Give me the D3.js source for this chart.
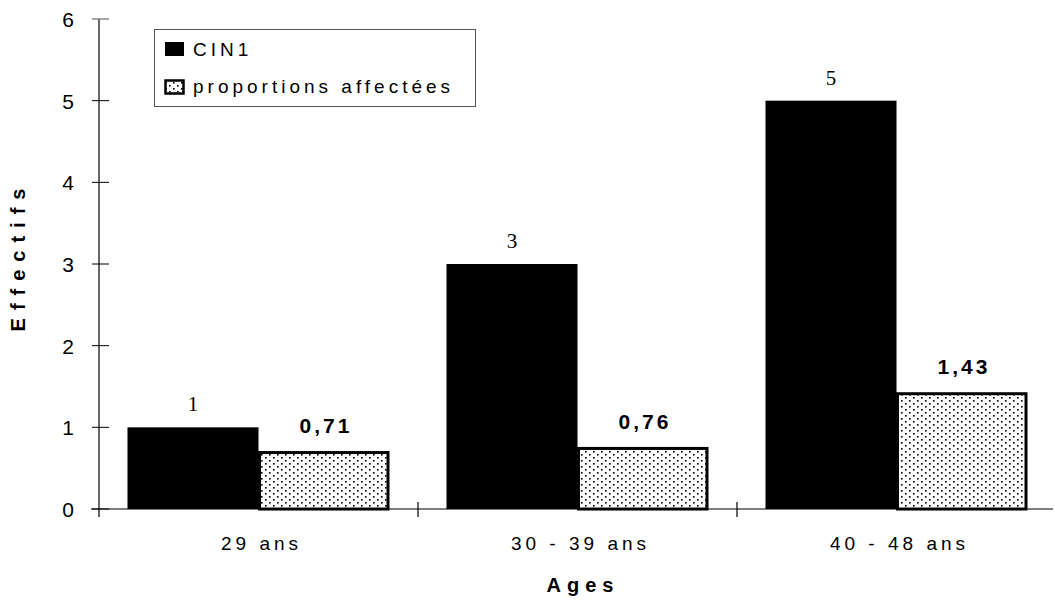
<!DOCTYPE html>
<html>
<head>
<meta charset="utf-8">
<script src="https://cdn.jsdelivr.net/npm/d3@7"></script>
<style>
body{margin:0;background:#fff;}
svg{display:block;font-family:Arial, "Liberation Sans", sans-serif;}
</style>
</head>
<body>
<svg id="chart" width="1055" height="601"></svg>
<script>
const categories = ["29 ans", "30 - 39 ans", "40 - 48 ans"];
const cin1 = [1, 3, 5];
const proportions = [0.71, 0.76, 1.43];
const proportionLabels = ["0,71", "0,76", "1,43"];
const yTicks = [0, 1, 2, 3, 4, 5, 6];
const seriesNames = ["CIN1", "proportions affectées"];

const svg = d3.select("#chart");
const defs = svg.append("defs");
const pat = defs.append("pattern").attr("id","dots").attr("patternUnits","userSpaceOnUse")
  .attr("width",8).attr("height",6);
pat.append("rect").attr("width",8).attr("height",6).attr("fill","#fff");
pat.append("rect").attr("x",1).attr("y",1).attr("width",1.6).attr("height",1.6).attr("fill","#000");
pat.append("rect").attr("x",5).attr("y",4).attr("width",1.6).attr("height",1.6).attr("fill","#000");

const x0 = 99, x1 = 1056, yTop = 19, yBot = 509;
const x = d3.scaleBand().domain(categories).range([x0, x1]).paddingInner(0).paddingOuter(0);
const inner = d3.scaleBand().domain([0,1]).range([0, 262]);
const y = d3.scaleLinear().domain([0, 6]).range([yBot, yTop]);
const groupOff = (x.bandwidth() - 262) / 2;

// y axis
svg.append("line").attr("x1",x0).attr("x2",x0).attr("y1",yTop).attr("y2",yBot+8)
  .attr("stroke","#000").attr("stroke-width",1.2);
const yAxis = svg.append("g");
yTicks.forEach(t => {
  const yy = y(t);
  yAxis.append("line").attr("x1", x0 - 7).attr("x2", x0 + 10).attr("y1", yy).attr("y2", yy)
    .attr("stroke", t===6 ? "#888" : "#000").attr("stroke-width", t===6 ? 1.5 : 1);
  yAxis.append("text").attr("x", 74).attr("y", yy + 8).attr("text-anchor","end")
    .attr("font-size", 21).attr("fill","#000").text(t);
});

// x axis
svg.append("line").attr("x1",x0-8).attr("x2",1053).attr("y1",yBot).attr("y2",yBot)
  .attr("stroke","#000").attr("stroke-width",1.2);
categories.slice(1).forEach(c => {
  svg.append("line").attr("x1",x(c)).attr("x2",x(c)).attr("y1",yBot-7).attr("y2",yBot+8)
    .attr("stroke","#000").attr("stroke-width",1.2);
});

// bars
categories.forEach((c,i) => {
  const gx = x(c) + groupOff;
  svg.append("rect").attr("x", gx + inner(0)).attr("y", y(cin1[i]))
    .attr("width", inner.bandwidth()).attr("height", y(0) - y(cin1[i])).attr("fill","#000");
  svg.append("rect").attr("x", gx + inner(1) + 1).attr("y", y(proportions[i]) + 1.5)
    .attr("width", inner.bandwidth() - 2.5).attr("height", y(0) - y(proportions[i]) - 1.5)
    .attr("fill","url(#dots)").attr("stroke","#000").attr("stroke-width",3);
  svg.append("text").attr("x", gx + inner(0) + inner.bandwidth()/2).attr("y", y(cin1[i]) - 16)
    .attr("text-anchor","middle").attr("font-family","'Liberation Serif', 'DejaVu Serif', serif")
    .attr("font-size", 21).text(cin1[i]);
  svg.append("text").attr("x", gx + inner(1) + inner.bandwidth()/2 + 2).attr("y", y(proportions[i]) - 18)
    .attr("text-anchor","middle").attr("font-weight","bold").attr("font-size", 21)
    .attr("letter-spacing", 3).text(proportionLabels[i]);
  svg.append("text").attr("x", x(c) + x.bandwidth()/2 + 3).attr("y", 550)
    .attr("text-anchor","middle").attr("font-size", 19).attr("letter-spacing", 4).text(c);
});

// axis titles
svg.append("text").attr("x", 583).attr("y", 592).attr("text-anchor","middle")
  .attr("font-weight","bold").attr("font-size", 20).attr("letter-spacing", 6).text("Ages");
svg.append("text").attr("transform","translate(25,256) rotate(-90)").attr("text-anchor","middle")
  .attr("font-weight","bold").attr("font-size", 20).attr("letter-spacing", 8).text("Effectifs");

// legend
const lg = svg.append("g");
lg.append("rect").attr("x",154.5).attr("y",29.5).attr("width",321).attr("height",77)
  .attr("fill","#fff").attr("stroke","#555").attr("stroke-width",1);
lg.append("rect").attr("x",165).attr("y",42).attr("width",19).attr("height",14).attr("fill","#000");
lg.append("rect").attr("x",165.5).attr("y",80.5).attr("width",18).attr("height",13)
  .attr("fill","url(#dots)").attr("stroke","#000").attr("stroke-width",2.5);
lg.append("text").attr("x",193).attr("y",56).attr("font-size",19).attr("letter-spacing",4).text(seriesNames[0]);
lg.append("text").attr("x",193).attr("y",93).attr("font-size",19).attr("letter-spacing",4).text(seriesNames[1]);
</script>
</body>
</html>
